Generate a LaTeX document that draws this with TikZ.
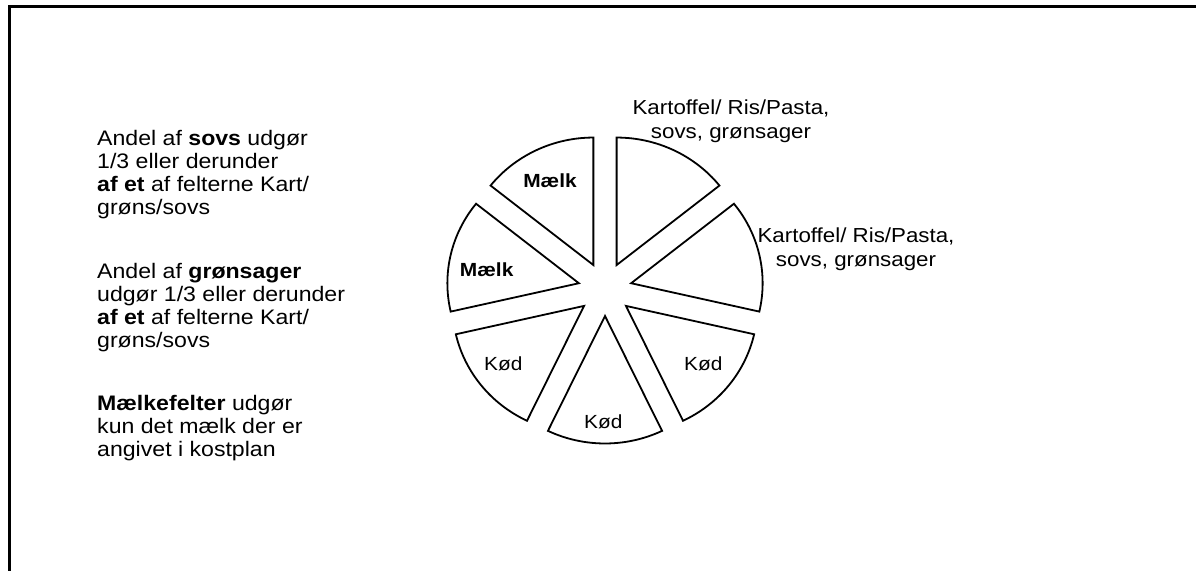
\documentclass[tikz,border=0pt]{standalone}
\usepackage{fontspec}
\setmainfont{Liberation Sans}[FakeStretch=1.1]
\usetikzlibrary{positioning, calc}
\definecolor{pieline}{HTML}{000000}

\begin{document}
\begin{tikzpicture}[x=1pt, y=1pt,
    slice/.style={draw=pieline, line width=1.8pt, fill=white},
    slicetext/.style={font=\fontsize{19}{22}\selectfont, inner sep=0pt},
    sidetext/.style={font=\fontsize{21}{23}\selectfont, align=left, anchor=north west, inner sep=0pt},
    pielabel/.style={font=\fontsize{20.3}{24}\selectfont, align=center, inner sep=0pt}]
  \useasboundingbox (0,0) rectangle (1196,570);
  % frame
  \draw[line width=3pt] (9,-10) -- (9,563.5) -- (1206,563.5);

  % notes on the left
  \node[sidetext] (sovsnote) at (97,440.3) {Andel af \textbf{sovs} udgør\\1/3 eller derunder\\\textbf{af et} af felterne Kart/\\grøns/sovs};
  \node[sidetext] (groennote) at (97,307.3) {Andel af \textbf{grønsager}\\udgør 1/3 eller derunder\\\textbf{af et} af felterne Kart/\\grøns/sovs};
  \node[sidetext] (maelknote) at (97,175.3) {\textbf{Mælkefelter} udgør\\kun det mælk der er\\angivet i kostplan};

  % pie, seven pieces pulled apart
  \coordinate (pie) at (605,280.8);
  \foreach \k in {0,...,6}{
    \pgfmathsetmacro\astart{90-\k*360/7}
    \pgfmathsetmacro\aend{\astart-360/7}
    \pgfmathsetmacro\amid{\astart-180/7}
    \draw[slice] ($(pie)+(\amid:26.8)$) -- ++({131.5*cos(\astart)},{127.5*sin(\astart)})
      arc[start angle=\astart, end angle=\aend, x radius=131.5, y radius=127.5] -- cycle;
  }

  \node[slicetext, font=\fontsize{19}{22}\selectfont\bfseries] (maelktop) at (550,389.3) {Mælk};
  \node[slicetext, font=\fontsize{19}{22}\selectfont\bfseries] (maelkleft) at (486.7,300) {Mælk};
  \node[slicetext] (koedleft) at (503.3,206) {Kød};
  \node[slicetext] (koedbottom) at (603.3,148.3) {Kød};
  \node[slicetext] (koedright) at (703.3,206) {Kød};

  \node[pielabel] (kartoffeltop) at (731,449) {Kartoffel/ Ris/Pasta,\\sovs, grønsager};
  \node[pielabel] (kartoffelright) at (856,321) {Kartoffel/ Ris/Pasta,\\sovs, grønsager};
\end{tikzpicture}
\end{document}
